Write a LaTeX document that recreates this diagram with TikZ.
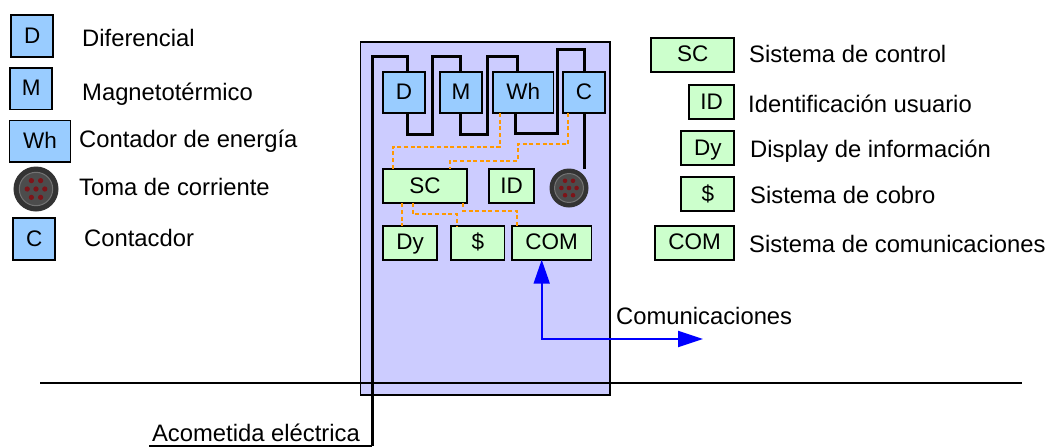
\documentclass[tikz,border=0pt]{standalone}
\usepackage{fontspec}
\setmainfont{Liberation Sans}
\usetikzlibrary{positioning,arrows.meta,calc}

\definecolor{boxfill}{RGB}{204,204,255}
\definecolor{protfill}{RGB}{153,204,255}
\definecolor{ctrlfill}{RGB}{204,255,204}
\definecolor{busline}{RGB}{255,153,0}
\definecolor{tomadot}{RGB}{125,20,25}

% face of a socket, r is the radius of the circle
\newcommand{\tomadots}[2]{
    \draw[black!55,line width=1pt,fill=black!70] (#1) circle ({0.76*#2});
    \foreach \dx/\dy in {-0.21/-0.38,0.21/-0.38,-0.4/0,0/0,0.4/0,-0.21/0.38,0.21/0.38}
        \fill[tomadot] ($(#1)+({\dx*#2},{\dy*#2})$) circle ({0.12*#2});
}

\begin{document}
\begin{tikzpicture}[
        x=1pt,
        y=-1pt,
        prot/.style={
                rectangle,
                draw=black,
                fill=protfill,
                line width=1.8pt,
                inner sep=0pt,
                outer sep=0pt,
                text height=14pt,
                text depth=0pt,
                minimum width=42pt,
                minimum height=41.5pt
            },
        ctrl/.style={
                rectangle,
                draw=black,
                fill=ctrlfill,
                line width=1.8pt,
                inner sep=0pt,
                outer sep=0pt,
                text height=14pt,
                text depth=0pt,
                minimum height=34pt
            },
        toma/.style={
                circle,
                draw=black!80,
                fill=black!80,
                line width=1pt,
                inner sep=0pt,
                outer sep=0pt
            },
        legend/.style = {anchor=base west,inner sep=0pt,font=\fontsize{23.8}{25}\selectfont},
        wire/.style = {line width=3pt,black,line join=miter},
        bus/.style = {line width=1.8pt,busline,dash pattern=on 4pt off 2.6pt},
        comms/.style = {line width=2pt,blue},
        every node/.style = {font=\fontsize{22.5}{24}\selectfont}
    ]
    \useasboundingbox (0,0) rectangle (1048,447);

    % cabinet and ground
    \node[draw=black,fill=boxfill,line width=1.6pt,minimum width=249.5pt,minimum height=353.5pt,inner sep=0pt,outer sep=0pt] (cabinet) at (485.3,218.5) {};
    \coordinate (groundl) at (40,383);
    \coordinate (groundr) at (1022,383);
    \draw[line width=1.5pt] (groundl) -- (groundr);

    % protections
    \node[prot] (D) at (404,92.5) {D};
    \node[prot] (M)  [right=15pt of D] {M};
    \node[prot,minimum width=60.5pt] (Wh) [right=11pt of M] {Wh};
    \node[prot] (C)  [right=9.5pt of Wh] {C};

    % control
    \node[ctrl,minimum width=83.5pt] (SC) at (425,186.3) {SC};
    \node[ctrl,minimum width=45.5pt] (ID) [right=22pt of SC] {ID};
    \node[toma,minimum size=38pt] (toma) at (569,188) {};
    \tomadots{toma}{19}
    \node[ctrl,minimum width=53.5pt] (Dy) at (410,242.7) {Dy};
    \node[ctrl,minimum width=53.5pt] (cobro) [right=14.3pt of Dy] {\$};
    \node[ctrl,minimum width=79.5pt] (COM) [right=7.4pt of cobro] {COM};

    % legend on the left
    \node[prot] (lD) at (32.3,36) {D};
    \node[prot] (lM) at (31.3,88.7) {M};
    \node[prot,minimum width=61pt] (lWh) at (40,141.3) {Wh};
    \node[toma,minimum size=44pt] (ltoma) at (36,189) {};
    \tomadots{ltoma}{22}
    \node[prot] (lC) at (34.2,239) {C};
    \node[legend] (tD) at (82,46) {Diferencial};
    \node[legend] (tM) at (82,100) {Magnetotérmico};
    \node[legend] (tWh) at (79,147) {Contador de energía};
    \node[legend] (ttoma) at (79,195) {Toma de corriente};
    \node[legend] (tC) at (84,246) {Contacdor};

    % legend on the right
    \node[ctrl,minimum width=83.3pt] (lSC) at (692.7,54.8) {SC};
    \node[ctrl,minimum width=45.6pt] (lID) at (711.5,102.3) {ID};
    \node[ctrl,minimum width=53pt] (lDy) at (707.8,148) {Dy};
    \node[ctrl,minimum width=53pt] (lcobro) at (707.8,194.3) {\$};
    \node[ctrl,minimum width=79.6pt] (lCOM) at (694.5,242.8) {COM};
    \node[legend] (tSC) at (749,62) {Sistema de control};
    \node[legend] (tID) at (748,112) {Identificación usuario};
    \node[legend] (tDy) at (750,157) {Display de información};
    \node[legend] (tcobro) at (750,203) {Sistema de cobro};
    \node[legend] (tCOM) at (749,252) {Sistema de comunicaciones};

    % power wiring
    \node[legend,anchor=base east] (acometida) at (360,441) {Acometida eléctrica};
    \coordinate (feedl) at (149,446);
    \coordinate (feed) at (372,446);
    \draw[line width=1.5pt] (feedl) -- (feed);
    \draw[wire] (feed) -- (372,56.7) -- (407.3,56.7) -- ([xshift=3.3pt]D.north);
    \draw[wire] ([xshift=3.3pt]D.south) -- (407.3,134.3) -- (432,134.3) -- (432,56.7) -- (460,56.7) -- (M.north -| 460,0);
    \draw[wire] (M.south -| 460,0) -- (460,134.3) -- (487.3,134.3) -- (487.3,56.7) -- (517.7,56.7) -- (Wh.north -| 517.7,0);
    \draw[wire] (Wh.south -| 515.3,0) -- (515.3,133.3) -- (557.3,133.3) -- (557.3,49.3) -- (584.3,49.3) -- (C.north -| 584.3,0);
    \draw[wire] (C.south) -- (toma.north -| C.south);

    % control bus
    \draw[bus] (Wh.south -| 500,0) -- (500,146.7) -- (393,146.7) -- (SC.north -| 393,0);
    \draw[bus] (C.south -| 568.3,0) -- (568.3,144.3) -- (517.7,144.3) -- (517.7,160.7) -- (450,160.7) -- (SC.north -| 450,0);
    \draw[bus] (SC.south -| 402,0) -- (Dy.north -| 402,0);
    \draw[bus] (SC.south -| 413,0) -- (413,214.3) -- (456.7,214.3) -- (cobro.north -| 456.7,0);
    \draw[bus] (SC.south -| 462.7,0) -- (462.7,210.7) -- (516.7,210.7) -- (COM.north -| 516.7,0);

    % communications
    \node[legend] (comunicaciones) at (616,324) {Comunicaciones};
    \coordinate (salida) at (703,339);
    \draw[comms,{Triangle[length=24pt,width=16pt]}-{Triangle[length=25pt,width=16pt]}] (COM.south -| 541.7,0) -- (541.7,339) -- (salida);
\end{tikzpicture}
\end{document}
